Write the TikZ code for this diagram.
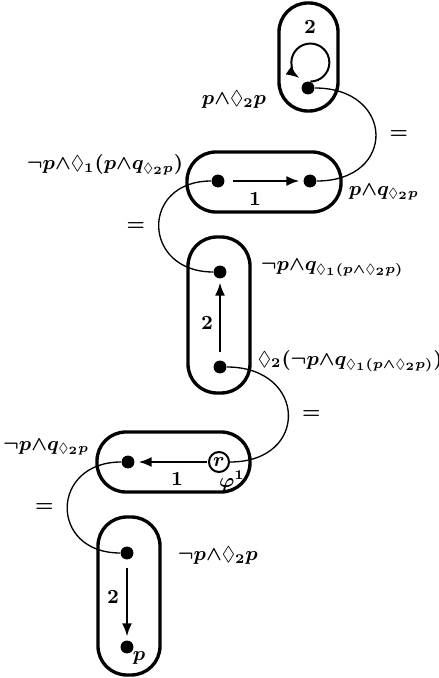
\documentclass[tikz,border=0pt]{standalone}
\usepackage{amssymb}
\usetikzlibrary{arrows.meta}

\begin{document}
\begin{tikzpicture}[x=0.45pt,y=0.45pt,font=\small\boldmath,
  capsule/.style={draw,line width=1.5pt,rounded corners=13pt},
  state/.style={circle,fill,inner sep=0pt,minimum size=5.8pt},
  root/.style={circle,draw,line width=0.9pt,inner sep=0pt,minimum size=9pt},
  trans/.style={line width=1.2pt,-{Latex[length=6pt,width=4.5pt]},shorten <=3.5pt,shorten >=1.5pt},
  wire/.style={line width=0.6pt}]
\useasboundingbox (0,0) rectangle (439,678);

\path[capsule] (279,567) rectangle (338,675);
\node[state] (u1) at (308,590) {};
\node (k1) at (310,651) {$2$};
\node[anchor=east] (lu1) at (274,578) {$p{\wedge}\Diamond_2p$};
\draw[line width=0.9pt,-{Latex[length=6pt,width=4.5pt]}] (u1.70) arc[start angle=-90,end angle=235,radius=19];

\path[capsule] (187,466) rectangle (341,526);
\node[state] (v1) at (218,497) {};
\node[state] (v2) at (310,497) {};
\node (k2) at (255,479) {$1$};
\node[anchor=east] (lv1) at (191,513) {$\neg p{\wedge}\Diamond_1(p{\wedge}q_{\Diamond_2p})$};
\node[anchor=west] (lv2) at (341,486) {$p{\wedge}q_{\Diamond_2p}$};
\draw[trans] (v1) -- (v2);

\path[capsule] (188,285) rectangle (250,441);
\node[state] (w1) at (220,406) {};
\node[state] (w2) at (220,311) {};
\node (k3) at (207,355) {$2$};
\node[anchor=west] (lw1) at (253,410) {$\neg p{\wedge}q_{\Diamond_1(p{\wedge}\Diamond_2p)}$};
\node[anchor=west] (lw2) at (250,317) {$\Diamond_2(\neg p{\wedge}q_{\Diamond_1(p{\wedge}\Diamond_2p)})$};
\draw[trans] (w2) -- (w1);

\path[capsule] (97,186) rectangle (250,246);
\node[state] (x1) at (128,216) {};
\node[root] (r) at (219,216) {$r$};
\node (k4) at (177,199) {$1$};
\node (phi) at (232,197) {$\varphi^1$};
\node[anchor=east] (lx1) at (97,231) {$\neg p{\wedge}q_{\Diamond_2p}$};
\draw[trans,shorten <=0.5pt] (r) -- (x1);

\path[capsule] (98,3) rectangle (160,161);
\node[state] (y1) at (127,125) {};
\node[state] (y2) at (127,31) {};
\node (k5) at (113,81) {$2$};
\node (ly2) at (139,20) {$p$};
\node[anchor=west] (ly1) at (170,122) {$\neg p{\wedge}\Diamond_2p$};
\draw[trans] (y1) -- (y2);

\draw[wire] (u1) to[out=0,in=0,looseness=2.2] node[right=2.5pt] {$=$} (v2);
\draw[wire] (v1) to[out=180,in=180,looseness=2] node[left=2.5pt] {$=$} (w1);
\draw[wire] (w2) to[out=0,in=0,looseness=2.15] node[right=2.5pt] {$=$} (r);
\draw[wire] (x1) to[out=180,in=180,looseness=2] node[left=2.5pt] {$=$} (y1);
\end{tikzpicture}
\end{document}
